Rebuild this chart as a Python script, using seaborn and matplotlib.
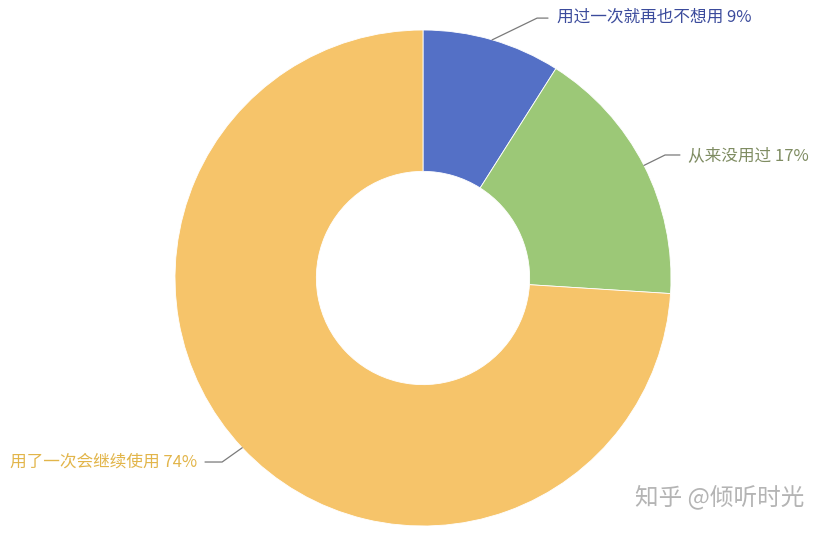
import numpy as np
import matplotlib
matplotlib.use("Agg")
import matplotlib.pyplot as plt
import seaborn as sns

labels = ["用过一次就再也不想用", "从来没用过", "用了一次会继续使用"]
shares = [9, 17, 74]
colors = ["#5470c6", "#9cc877", "#f6c46a"]
text_colors = ["#3b4b9c", "#7f8c62", "#e2b54a"]

sns.set_theme(style="white")
plt.rcParams["font.family"] = ["Noto Sans CJK SC", "DejaVu Sans"]

fig = plt.figure(figsize=(8.3, 5.34), dpi=100)
fig.patch.set_facecolor("white")
# pie centred at (423, 278) px, outer radius 248 px
ax = fig.add_axes([175 / 830, 8 / 534, 496 / 830, 496 / 534])
ax.pie(shares, colors=colors, startangle=90, counterclock=False,
       radius=1.0, wedgeprops=dict(width=0.57, edgecolor="white", linewidth=0.6))
ax.set_xlim(-1, 1)
ax.set_ylim(-1, 1)
ax.set_aspect("equal")
ax.axis("off")

# leader line elbows / ends / text anchors in data units
elbows = [(0.46, 1.048), (0.976, 0.496), (-0.81, -0.742)]
ends = [(0.504, 1.048), (1.036, 0.496), (-0.879, -0.742)]
text_pos = [(0.54, 1.05), (1.069, 0.492), (-0.911, -0.742)]
aligns = ["left", "left", "right"]

cum = np.cumsum([0] + shares)
for i, (lab, val) in enumerate(zip(labels, shares)):
    mid = np.deg2rad(90 - (cum[i] + val / 2) / sum(shares) * 360)
    x0, y0 = np.cos(mid), np.sin(mid)
    ax.plot([x0, elbows[i][0], ends[i][0]], [y0, elbows[i][1], ends[i][1]],
            color="#7a7a7a", lw=0.9, clip_on=False)
    ax.text(text_pos[i][0], text_pos[i][1], f"{lab} {val}%", color=text_colors[i],
            fontsize=12, ha=aligns[i], va="center", clip_on=False)

fig.text(720 / 830, 1 - 497 / 534, "知乎 @倾听时光", color="#b4b4b4",
         fontsize=17, ha="center", va="center")

fig.savefig("out.png", dpi=100)
